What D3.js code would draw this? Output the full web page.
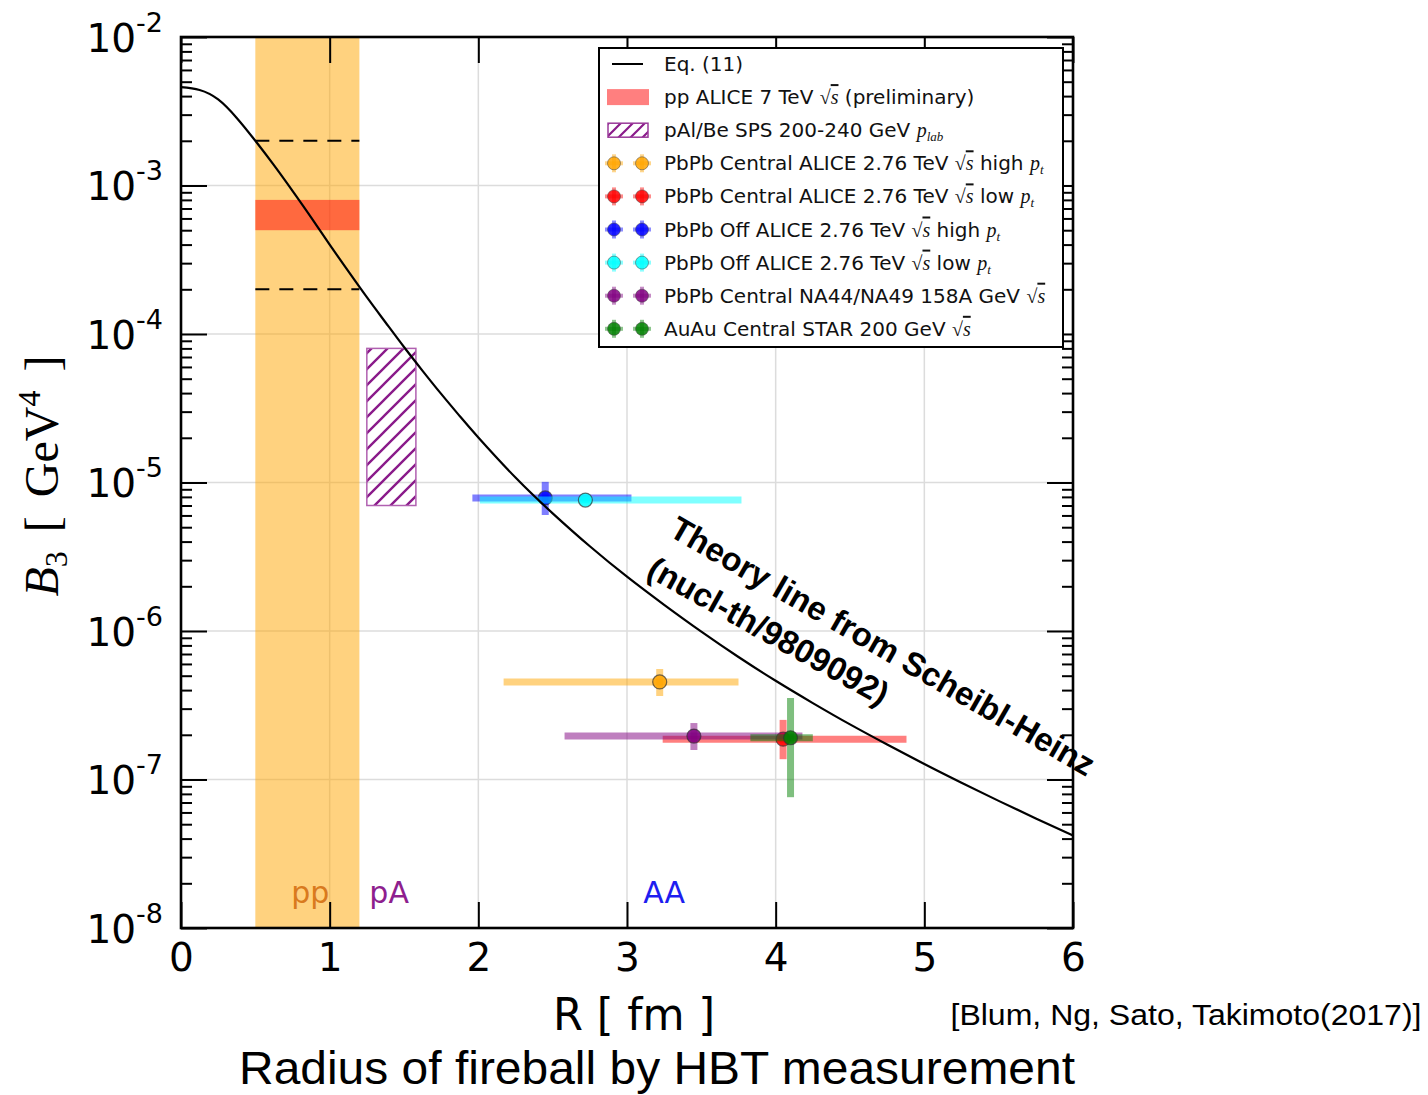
<!DOCTYPE html>
<html>
<head>
<meta charset="utf-8">
<script src="https://cdn.jsdelivr.net/npm/d3@7"></script>
<style>
  body { margin: 0; background: #fff; }
  svg { display: block; }
</style>
</head>
<body>
<svg id="chart" width="1428" height="1095"></svg>
<script>
// ---- Eq. (11): theory curve of B3 versus fireball radius R ----
const eqR  = [0, 0.125, 0.25, 0.375, 0.5, 0.625, 0.75, 0.875, 1.0, 1.125, 1.25, 1.375,
              1.5, 1.625, 1.75, 1.875, 2.0, 2.25, 2.5, 2.75, 3.0, 3.25, 3.5, 3.75,
              4.0, 4.25, 4.5, 4.75, 5.0, 5.25, 5.5, 5.75, 6.0];
const eqB3 = [4.6e-3, 4.4e-3, 3.8e-3, 2.85e-3, 2.0e-3, 1.37e-3, 9.2e-4, 6.1e-4, 4.0e-4,
              2.65e-4, 1.77e-4, 1.2e-4, 8.17e-5, 5.65e-5, 3.95e-5, 2.8e-5, 2.01e-5,
              1.08e-5, 6.2e-6, 3.72e-6, 2.32e-6, 1.5e-6, 9.9e-7, 6.68e-7, 4.62e-7,
              3.27e-7, 2.35e-7, 1.72e-7, 1.27e-7, 9.5e-8, 7.18e-8, 5.47e-8, 4.2e-8];

// ---- heavy-ion measurements (central value and error ranges) ----
const pointR  = [3.22, 4.05, 2.45, 2.72, 3.45, 4.10];
const pointB3 = [4.54e-7, 1.87e-7, 7.87e-6, 7.62e-6, 1.96e-7, 1.91e-7];
const rLow    = [2.17, 3.24, 1.96, 2.01, 2.58, 3.83];
const rHigh   = [3.75, 4.88, 3.03, 3.77, 4.18, 4.25];
const b3Low   = [3.65e-7, 1.37e-7, 6.04e-6, 7.3e-6, 1.58e-7, 7.6e-8];
const b3High  = [5.55e-7, 2.52e-7, 1.01e-5, 7.9e-6, 2.4e-7, 3.54e-7];
const seriesColors = ["orange", "red", "blue", "cyan", "purple", "green"];

// ---- pp and pA regions ----
const ppRange    = [0.5, 1.2];
const ppAliceB3  = [5e-4, 8e-4];
const ppBoundB3  = [2e-3, 2e-4];
const pARange    = [1.25, 1.58];
const pAB3       = [7e-6, 8e-5];

// ---- axes ----
const xTicks = [0, 1, 2, 3, 4, 5, 6];
const yDecades = [1e-2, 1e-3, 1e-4, 1e-5, 1e-6, 1e-7, 1e-8];

// ---- legend entries ({rs} = sqrt(s), {pt} = p_t, {plab} = p_lab) ----
const legendLabels = [
  "Eq. (11)",
  "pp ALICE 7 TeV {rs} (preliminary)",
  "pAl/Be SPS 200-240 GeV {plab}",
  "PbPb Central ALICE 2.76 TeV {rs} high {pt}",
  "PbPb Central ALICE 2.76 TeV {rs} low {pt}",
  "PbPb Off ALICE 2.76 TeV {rs} high {pt}",
  "PbPb Off ALICE 2.76 TeV {rs} low {pt}",
  "PbPb Central NA44/NA49 158A GeV {rs}",
  "AuAu Central STAR 200 GeV {rs}"
];

const regionLabels = ["pp", "pA", "AA"];
const regionLabelR = [0.87, 1.4, 3.25];
const regionColors = ["#d97a1e", "#8e1f8e", "#1e1ef0"];

const plot = { left: 181, right: 1073, top: 37, bottom: 928 };

const svg = d3.select("#chart");
const x = d3.scaleLinear().domain([0, 6]).range([plot.left, plot.right]);
const y = d3.scaleLog().domain([1e-8, 1e-2]).range([plot.bottom, plot.top]);

const sans = "DejaVu Sans, sans-serif";
const serif = "Liberation Serif, Times New Roman, serif";

// hatch pattern for the pA box
const defs = svg.append("defs");
const hatch = defs.append("pattern")
  .attr("id", "hatch").attr("patternUnits", "userSpaceOnUse")
  .attr("width", 16).attr("height", 16);
hatch.append("path")
  .attr("d", "M-4,4 L4,-4 M0,16 L16,0 M12,20 L20,12")
  .attr("stroke", "#8a1a8a").attr("stroke-width", 2.4).attr("fill", "none");
const hatchSmall = defs.append("pattern")
  .attr("id", "hatchSmall").attr("patternUnits", "userSpaceOnUse")
  .attr("width", 12).attr("height", 12);
hatchSmall.append("path")
  .attr("d", "M-3,3 L3,-3 M0,12 L12,0 M9,15 L15,9")
  .attr("stroke", "#8a1a8a").attr("stroke-width", 2.2).attr("fill", "none");

// grid
const grid = svg.append("g").attr("stroke", "#dcdcdc").attr("stroke-width", 1.5);
grid.selectAll("line.gx").data(xTicks.slice(1, -1)).join("line")
  .attr("x1", d => x(d)).attr("x2", d => x(d))
  .attr("y1", plot.top).attr("y2", plot.bottom);
grid.selectAll("line.gy").data(yDecades.slice(1, -1)).join("line")
  .attr("x1", plot.left).attr("x2", plot.right)
  .attr("y1", d => y(d)).attr("y2", d => y(d));

// pp region band
svg.append("rect")
  .attr("x", x(ppRange[0])).attr("width", x(ppRange[1]) - x(ppRange[0]))
  .attr("y", plot.top).attr("height", plot.bottom - plot.top)
  .attr("fill", "orange").attr("fill-opacity", 0.5);

// pp ALICE band
svg.append("rect")
  .attr("x", x(ppRange[0])).attr("width", x(ppRange[1]) - x(ppRange[0]))
  .attr("y", y(ppAliceB3[1])).attr("height", y(ppAliceB3[0]) - y(ppAliceB3[1]))
  .attr("fill", "red").attr("fill-opacity", 0.5);

// dashed bounds in the pp region
svg.selectAll("line.ppb").data(ppBoundB3).join("line")
  .attr("x1", x(ppRange[0])).attr("x2", x(ppRange[1]))
  .attr("y1", d => y(d)).attr("y2", d => y(d))
  .attr("stroke", "#000").attr("stroke-width", 2)
  .attr("stroke-dasharray", "14,10");

// pA hatched box
svg.append("rect")
  .attr("x", x(pARange[0])).attr("width", x(pARange[1]) - x(pARange[0]))
  .attr("y", y(pAB3[1])).attr("height", y(pAB3[0]) - y(pAB3[1]))
  .attr("fill", "url(#hatch)")
  .attr("stroke", "#b060b0").attr("stroke-width", 1.5);

// measurement series: error bars then marker
pointR.forEach((r, i) => {
  const g = svg.append("g");
  const c = seriesColors[i];
  g.append("line")
    .attr("x1", x(rLow[i])).attr("x2", x(rHigh[i]))
    .attr("y1", y(pointB3[i])).attr("y2", y(pointB3[i]))
    .attr("stroke", c).attr("stroke-opacity", 0.5).attr("stroke-width", 7);
  g.append("line")
    .attr("x1", x(r)).attr("x2", x(r))
    .attr("y1", y(b3Low[i])).attr("y2", y(b3High[i]))
    .attr("stroke", c).attr("stroke-opacity", 0.5).attr("stroke-width", 7);
  g.append("circle")
    .attr("cx", x(r)).attr("cy", y(pointB3[i])).attr("r", 7)
    .attr("fill", c).attr("fill-opacity", 0.85)
    .attr("stroke", "#333").attr("stroke-opacity", 0.7).attr("stroke-width", 1.2);
});

// theory curve
svg.append("path")
  .datum(eqR.map((r, i) => [r, eqB3[i]]))
  .attr("d", d3.line().x(d => x(d[0])).y(d => y(d[1])).curve(d3.curveNatural))
  .attr("fill", "none").attr("stroke", "#000").attr("stroke-width", 2.2);

// axes with inward ticks
const yMinor = [];
for (let e = -8; e < -2; e++) for (let k = 2; k <= 9; k++) yMinor.push(k * Math.pow(10, e));

function styleAxis(g) {
  g.select(".domain").remove();
  g.selectAll(".tick line").attr("stroke", "#000").attr("stroke-width", 2);
}

svg.append("g").attr("transform", `translate(0,${plot.bottom})`)
  .call(d3.axisBottom(x).tickValues(xTicks).tickSizeInner(-26).tickSizeOuter(0)
        .tickPadding(15).tickFormat(d3.format("d")))
  .call(styleAxis)
  .call(g => g.selectAll(".tick text").attr("font-family", sans)
        .attr("font-size", 39).attr("fill", "#000"));
svg.append("g").attr("transform", `translate(0,${plot.top})`)
  .call(d3.axisTop(x).tickValues(xTicks).tickSizeInner(-26).tickSizeOuter(0).tickFormat(""))
  .call(styleAxis);

svg.append("g").attr("transform", `translate(${plot.left},0)`)
  .call(d3.axisLeft(y).tickValues(yDecades).tickSizeInner(-26).tickSizeOuter(0)
        .tickPadding(18).tickFormat(""))
  .call(styleAxis)
  .call(g => g.selectAll(".tick text").each(function (d) {
    const t = d3.select(this)
      .attr("font-family", sans).attr("fill", "#000")
      .attr("font-size", 39).attr("dy", "0.37em");
    t.append("tspan").text("10");
    t.append("tspan").attr("dy", -20).attr("font-size", 27)
      .text("-" + Math.abs(Math.round(Math.log10(d))));
  }));
svg.append("g").attr("transform", `translate(${plot.left},0)`)
  .call(d3.axisLeft(y).tickValues(yMinor).tickSizeInner(-11).tickSizeOuter(0).tickFormat(""))
  .call(styleAxis);
svg.append("g").attr("transform", `translate(${plot.right},0)`)
  .call(d3.axisRight(y).tickValues(yDecades).tickSizeInner(-26).tickSizeOuter(0).tickFormat(""))
  .call(styleAxis);
svg.append("g").attr("transform", `translate(${plot.right},0)`)
  .call(d3.axisRight(y).tickValues(yMinor).tickSizeInner(-11).tickSizeOuter(0).tickFormat(""))
  .call(styleAxis);

// frame
svg.append("rect")
  .attr("x", plot.left).attr("y", plot.top)
  .attr("width", plot.right - plot.left).attr("height", plot.bottom - plot.top)
  .attr("fill", "none").attr("stroke", "#000").attr("stroke-width", 2.6);

// region labels
svg.selectAll("text.region").data(regionLabels).join("text")
  .attr("x", (d, i) => x(regionLabelR[i])).attr("y", 903)
  .attr("text-anchor", "middle").attr("font-family", sans).attr("font-size", 30)
  .attr("fill", (d, i) => regionColors[i]).text(d => d);

// annotation along the theory curve
[["Theory line from Scheibl-Heinz", 877, 656, 30], ["(nucl-th/9809092)", 763, 641, 29]]
  .forEach(([txt, ax, ay, ang]) => {
    svg.append("text")
      .attr("transform", `translate(${ax},${ay}) rotate(${ang})`)
      .attr("text-anchor", "middle")
      .attr("font-family", "Liberation Sans, Arial, sans-serif")
      .attr("font-weight", "bold").attr("font-size", 33).attr("fill", "#000")
      .text(txt);
  });

// axis titles
svg.append("text")
  .attr("x", 634).attr("y", 1030).attr("text-anchor", "middle")
  .attr("font-family", sans).attr("font-size", 45)
  .attr("textLength", 162).attr("lengthAdjust", "spacingAndGlyphs")
  .text("R [ fm ]");

const yl = svg.append("text")
  .attr("transform", "translate(58,476) rotate(-90)")
  .attr("text-anchor", "middle").attr("font-family", serif)
  .attr("font-size", 48).attr("fill", "#000").attr("word-spacing", 7);
yl.append("tspan").attr("font-style", "italic").text("B");
yl.append("tspan").attr("font-size", 32).attr("dy", 9).text("3");
yl.append("tspan").attr("dy", -9).text(" [ GeV");
yl.append("tspan").attr("font-size", 32).attr("dy", -18).text("4");
yl.append("tspan").attr("dy", 18).text(" ]");

svg.append("text")
  .attr("x", 1186).attr("y", 1025).attr("text-anchor", "middle")
  .attr("font-family", "Liberation Sans, Arial, sans-serif").attr("font-size", 30)
  .attr("textLength", 471).attr("lengthAdjust", "spacingAndGlyphs")
  .text("[Blum, Ng, Sato, Takimoto(2017)]");

svg.append("text")
  .attr("x", 657).attr("y", 1084).attr("text-anchor", "middle")
  .attr("font-family", "Liberation Sans, Arial, sans-serif").attr("font-size", 46)
  .attr("textLength", 836).attr("lengthAdjust", "spacingAndGlyphs")
  .text("Radius of fireball by HBT measurement");

// legend
const lg = { x0: 599, y0: 48, x1: 1063, y1: 347, row0: 64, rowH: 33.1 };
svg.append("rect")
  .attr("x", lg.x0).attr("y", lg.y0).attr("width", lg.x1 - lg.x0).attr("height", lg.y1 - lg.y0)
  .attr("fill", "#fff").attr("stroke", "#000").attr("stroke-width", 2);

legendLabels.forEach((label, i) => {
  const cy = lg.row0 + i * lg.rowH;
  if (i === 0) {
    svg.append("line").attr("x1", 612).attr("x2", 643).attr("y1", cy).attr("y2", cy)
      .attr("stroke", "#000").attr("stroke-width", 2);
  } else if (i === 1) {
    svg.append("rect").attr("x", 607).attr("y", cy - 8).attr("width", 42).attr("height", 16)
      .attr("fill", "red").attr("fill-opacity", 0.5);
  } else if (i === 2) {
    svg.append("rect").attr("x", 608).attr("y", cy - 7).attr("width", 40).attr("height", 14)
      .attr("fill", "url(#hatchSmall)").attr("stroke", "#9a3a9a").attr("stroke-width", 1.5);
  } else {
    const c = seriesColors[i - 3];
    [614, 642].forEach(mx => {
      svg.append("line").attr("x1", mx - 9).attr("x2", mx + 9).attr("y1", cy).attr("y2", cy)
        .attr("stroke", c).attr("stroke-opacity", 0.45).attr("stroke-width", 4);
      svg.append("line").attr("x1", mx).attr("x2", mx).attr("y1", cy - 9).attr("y2", cy + 9)
        .attr("stroke", c).attr("stroke-opacity", 0.45).attr("stroke-width", 4);
      svg.append("circle").attr("cx", mx).attr("cy", cy).attr("r", 6.5)
        .attr("fill", c).attr("fill-opacity", 0.85)
        .attr("stroke", "#444").attr("stroke-opacity", 0.5).attr("stroke-width", 1);
    });
  }
  const t = svg.append("text").attr("x", 664).attr("y", cy + 7)
    .attr("font-family", sans).attr("font-size", 20).attr("fill", "#111");
  let shift = 0;
  label.split(/(\{\w+\})/).filter(s => s.length).forEach(part => {
    if (part === "{rs}") {
      t.append("tspan").attr("dy", -shift).attr("font-family", serif).text("√");
      shift = 0;
      t.append("tspan").attr("font-family", serif).attr("font-style", "italic")
        .style("text-decoration", "overline").text("s");
    } else if (part === "{pt}" || part === "{plab}") {
      t.append("tspan").attr("dy", -shift).attr("font-family", serif)
        .attr("font-style", "italic").text("p");
      t.append("tspan").attr("font-family", serif).attr("font-style", "italic")
        .attr("font-size", 13).attr("dy", 4).text(part === "{pt}" ? "t" : "lab");
      shift = 4;
    } else {
      t.append("tspan").attr("dy", -shift).text(part);
      shift = 0;
    }
  });
});
</script>
</body>
</html>
